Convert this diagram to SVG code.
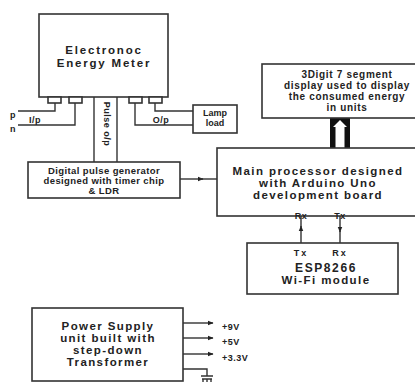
<svg xmlns="http://www.w3.org/2000/svg" width="415" height="382" viewBox="0 0 415 382">
<defs>
<style>
.box{fill:#fff;stroke:#333;stroke-width:1.6}
.ln{fill:none;stroke:#333;stroke-width:1.4}
.t{font-family:"Liberation Sans",Arial,sans-serif;font-weight:bold;fill:#222;text-anchor:middle}
.big{font-size:11.5px;letter-spacing:1.4px}
.mid{font-size:9.5px;letter-spacing:0.4px}
.dsp{font-size:10px;letter-spacing:0.7px}
.sm{font-size:9px;letter-spacing:0.5px}
</style>
<marker id="ah" viewBox="0 0 10 10" refX="9" refY="5" markerWidth="6" markerHeight="6" orient="auto" markerUnits="userSpaceOnUse">
<path d="M0,1 L10,5 L0,9 z" fill="#222"/>
</marker>
</defs>
<rect width="415" height="382" fill="#fff"/>

<g id="connectors">
<path class="ln" d="M18,111 H55 V103"/>
<path class="ln" d="M18,125 H75 V103"/>
<path class="ln" d="M135,103 V125 H193"/>
<path class="ln" d="M155,103 V111 H193"/>
<path class="ln" d="M94,97 V162"/>
<path class="ln" d="M117,97 V162"/>
<path class="ln" d="M180,179 H203" marker-end="url(#ah)"/>
<path class="ln" d="M200,179 H217"/>
<rect x="330" y="118" width="20" height="30" fill="#111"/>
<polygon points="335.5,148 335.5,127 333,127 340,120 347,127 344.5,127 344.5,148" fill="#fff"/>
<path class="ln" d="M301,243 V226" marker-end="url(#ah)"/>
<path class="ln" d="M301,228 V216"/>
<path class="ln" d="M340,216 V232" marker-end="url(#ah)"/>
<path class="ln" d="M340,230 V243"/>
<path class="ln" d="M183,323 H213" marker-end="url(#ah)"/>
<path class="ln" d="M183,338 H213" marker-end="url(#ah)"/>
<path class="ln" d="M183,354 H213" marker-end="url(#ah)"/>
<path class="ln" d="M183,369 H207 V376"/>
<path class="ln" d="M201,376 H213 M203,379 V382 M207,379 V382 M211,379 V382 M202,379 H212" stroke-width="1.2"/>
</g>

<g id="meter">
<rect class="box" x="39" y="14" width="129" height="83"/>
<rect class="box" x="48" y="97" width="13" height="6" stroke-width="1.2"/>
<rect class="box" x="69" y="97" width="13" height="6" stroke-width="1.2"/>
<rect class="box" x="129" y="97" width="13" height="6" stroke-width="1.2"/>
<rect class="box" x="149" y="97" width="13" height="6" stroke-width="1.2"/>
<text class="t big" x="104" y="54" style="letter-spacing:1.8px">Electronoc</text>
<text class="t big" x="104" y="67" style="letter-spacing:1.8px">Energy Meter</text>
</g>

<g id="labels">
<text class="t sm" x="10" y="118" style="text-anchor:start">p</text>
<text class="t sm" x="10" y="132" style="text-anchor:start">n</text>
<text class="t sm" x="35" y="123">I/p</text>
<text class="t sm" x="161" y="123">O/p</text>
<text class="t sm" transform="translate(104,124) rotate(90)">Pulse o/p</text>
</g>

<g id="lamp">
<rect class="box" x="193" y="105" width="44" height="28"/>
<text class="t sm" x="215" y="116" style="letter-spacing:0">Lamp</text>
<text class="t sm" x="215" y="126" style="letter-spacing:0">load</text>
</g>

<g id="pulsegen">
<rect class="box" x="28" y="162" width="152" height="36"/>
<text class="t mid" x="104" y="174">Digital pulse generator</text>
<text class="t mid" x="104" y="184">designed with timer chip</text>
<text class="t mid" x="104" y="194">&amp; LDR</text>
</g>

<g id="display">
<rect class="box" x="262" y="64" width="160" height="54"/>
<text class="t dsp" x="347" y="78">3Digit 7 segment</text>
<text class="t dsp" x="347" y="89">display used to display</text>
<text class="t dsp" x="347" y="100">the consumed energy</text>
<text class="t dsp" x="347" y="111">in units</text>
</g>

<g id="processor">
<rect class="box" x="217" y="148" width="205" height="68"/>
<text class="t big" x="318" y="175">Main processor designed</text>
<text class="t big" x="318" y="187">with Arduino Uno</text>
<text class="t big" x="318" y="199">development board</text>
<text class="t sm" x="301" y="219">Rx</text>
<text class="t sm" x="340" y="219">Tx</text>
</g>

<g id="esp">
<rect class="box" x="247" y="243" width="151" height="51"/>
<text class="t sm" x="301" y="256" style="letter-spacing:2px">Tx</text>
<text class="t sm" x="340" y="256" style="letter-spacing:2px">Rx</text>
<text class="t big" x="326" y="272" style="font-size:12px;letter-spacing:1.6px">ESP8266</text>
<text class="t big" x="326" y="284">Wi-Fi module</text>
</g>

<g id="power">
<rect class="box" x="32" y="308" width="151" height="73"/>
<text class="t big" x="108" y="330">Power Supply</text>
<text class="t big" x="108" y="342">unit built with</text>
<text class="t big" x="108" y="354">step-down</text>
<text class="t big" x="108" y="366">Transformer</text>
<text class="t sm" x="222" y="330" style="text-anchor:start">+9V</text>
<text class="t sm" x="222" y="345" style="text-anchor:start">+5V</text>
<text class="t sm" x="222" y="361" style="text-anchor:start">+3.3V</text>
</g>
</svg>
